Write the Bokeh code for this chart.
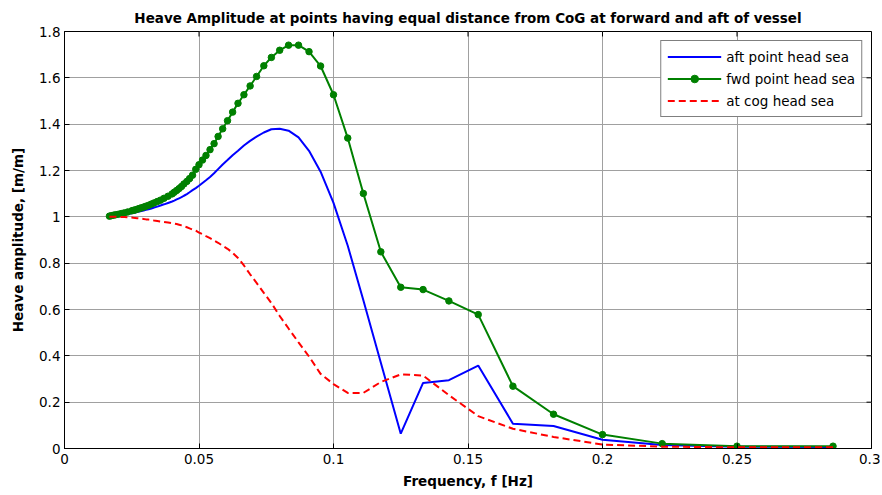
from bokeh.plotting import figure
from bokeh.models import FixedTicker, Range1d, Legend
from bokeh.embed import file_html
from bokeh.resources import INLINE

# Frequency [Hz]
freq = [0.0167, 0.0174, 0.0182, 0.0190, 0.0200, 0.0211, 0.0222, 0.0235, 0.0250, 0.0256,
        0.0263, 0.0270, 0.0278, 0.0286, 0.0294, 0.0303, 0.0313, 0.0323, 0.0333, 0.0345,
        0.0357, 0.0370, 0.0385, 0.0400, 0.0408, 0.0417, 0.0426, 0.0435, 0.0444, 0.0455,
        0.0465, 0.0476, 0.0488, 0.0500, 0.0513, 0.0526, 0.0541, 0.0556, 0.0571, 0.0588,
        0.0606, 0.0625, 0.0645, 0.0667, 0.0690, 0.0714, 0.0741, 0.0769, 0.0800, 0.0833,
        0.0870, 0.0909, 0.0952, 0.1000, 0.1053, 0.1111, 0.1176, 0.1250, 0.1333, 0.1429,
        0.1538, 0.1667, 0.1818, 0.2000, 0.2222, 0.2500, 0.2857]

aft_point = [1.000, 1.001, 1.002, 1.003, 1.005, 1.007, 1.009, 1.012, 1.015, 1.017,
             1.019, 1.021, 1.023, 1.025, 1.027, 1.030, 1.033, 1.036, 1.040, 1.044,
             1.049, 1.054, 1.060, 1.066, 1.070, 1.075, 1.080, 1.085, 1.091, 1.098,
             1.106, 1.115, 1.124, 1.134, 1.146, 1.158, 1.172, 1.188, 1.206, 1.226,
             1.245, 1.266, 1.285, 1.308, 1.328, 1.346, 1.364, 1.378, 1.380, 1.372,
             1.343, 1.285, 1.195, 1.060, 0.875, 0.640, 0.370, 0.064, 0.283, 0.295,
             0.358, 0.107, 0.097, 0.038, 0.015, 0.008, 0.007]

fwd_point = [1.003, 1.005, 1.007, 1.009, 1.011, 1.014, 1.017, 1.021, 1.026, 1.028,
             1.030, 1.033, 1.036, 1.039, 1.042, 1.046, 1.050, 1.055, 1.060, 1.066,
             1.072, 1.080, 1.089, 1.099, 1.106, 1.114, 1.122, 1.131, 1.142, 1.153,
             1.165, 1.180, 1.205, 1.225, 1.245, 1.265, 1.290, 1.316, 1.347, 1.380,
             1.415, 1.452, 1.490, 1.527, 1.565, 1.606, 1.652, 1.688, 1.719, 1.741,
             1.741, 1.713, 1.651, 1.527, 1.340, 1.101, 0.849, 0.696, 0.686, 0.637,
             0.578, 0.269, 0.148, 0.060, 0.021, 0.010, 0.010]

at_cog = [1.000, 1.000, 1.000, 1.000, 1.000, 0.999, 0.999, 0.998, 0.997, 0.996,
          0.995, 0.994, 0.993, 0.992, 0.991, 0.989, 0.988, 0.986, 0.984, 0.982,
          0.980, 0.978, 0.976, 0.973, 0.971, 0.969, 0.966, 0.963, 0.959, 0.955,
          0.950, 0.945, 0.940, 0.932, 0.925, 0.917, 0.908, 0.898, 0.888, 0.875,
          0.862, 0.845, 0.822, 0.790, 0.752, 0.715, 0.672, 0.628, 0.572, 0.518,
          0.458, 0.397, 0.322, 0.278, 0.240, 0.240, 0.287, 0.320, 0.315, 0.230,
          0.140, 0.085, 0.050, 0.017, 0.008, 0.005, 0.005]

x_ticks = [0, 0.05, 0.1, 0.15, 0.2, 0.25, 0.3]
x_tick_labels = ["0", "0.05", "0.1", "0.15", "0.2", "0.25", "0.3"]
y_ticks = [0, 0.2, 0.4, 0.6, 0.8, 1.0, 1.2, 1.4, 1.6, 1.8]
y_tick_labels = ["0", "0.2", "0.4", "0.6", "0.8", "1", "1.2", "1.4", "1.6", "1.8"]

FONT = "DejaVu Sans"
W, H = 880, 493
BL, BR, BT, BB = 64, 9, 31, 45
X0, X1, Y0, Y1 = 0, 0.3, 0, 1.8

p = figure(width=W, height=H, output_backend="svg", toolbar_location=None,
           x_range=Range1d(X0, X1), y_range=Range1d(Y0, Y1),
           min_border_left=BL, min_border_right=BR, min_border_top=BT, min_border_bottom=BB,
           title="Heave Amplitude at points having equal distance from CoG at forward and aft of vessel")

p.title.text_font = FONT
p.title.text_font_size = "13.5px"
p.title.text_font_style = "bold"
p.title.text_color = "black"
p.title.align = "center"
p.title.vertical_align = "middle"
p.title.offset = 0
p.title.standoff = 10

p.outline_line_color = "black"
p.outline_line_width = 1
p.outline_line_alpha = 1

for g in (p.xgrid[0], p.ygrid[0]):
    g.grid_line_color = "#a0a0a0"
    g.grid_line_width = 1

p.xgrid[0].ticker = FixedTicker(ticks=x_ticks)
p.ygrid[0].ticker = FixedTicker(ticks=y_ticks)

xa = p.xaxis[0]
xa.ticker = FixedTicker(ticks=x_ticks)
xa.major_label_overrides = {t: l for t, l in zip(x_ticks, x_tick_labels)}
xa.axis_label = "Frequency, f [Hz]"
ya = p.yaxis[0]
ya.ticker = FixedTicker(ticks=y_ticks)
ya.major_label_overrides = {t: l for t, l in zip(y_ticks, y_tick_labels)}
ya.axis_label = "Heave amplitude, [m/m]"

for ax in (xa, ya):
    ax.major_tick_in = 5
    ax.major_tick_out = 0
    ax.minor_tick_line_color = None
    ax.axis_line_color = "black"
    ax.major_tick_line_color = "black"
    ax.major_label_text_font = FONT
    ax.major_label_text_font_size = "13.5px"
    ax.major_label_text_color = "black"
    ax.axis_label_text_font = FONT
    ax.axis_label_text_font_size = "13.5px"
    ax.axis_label_text_font_style = "bold"
    ax.axis_label_text_color = "black"
xa.major_label_standoff = 5
xa.axis_label_standoff = 6
ya.major_label_standoff = 4
ya.axis_label_standoff = 10

# mirrored inward tick marks on the top and right frame edges (5 px long)
frame_w = W - BL - BR
frame_h = H - BT - BB
dx = 5 * (X1 - X0) / frame_w
dy = 5 * (Y1 - Y0) / frame_h
p.segment(x0=[X1] * len(y_ticks), y0=y_ticks, x1=[X1 - dx] * len(y_ticks), y1=y_ticks,
          line_color="black", line_width=1)
p.segment(x0=x_ticks, y0=[Y1] * len(x_ticks), x1=x_ticks, y1=[Y1 - dy] * len(x_ticks),
          line_color="black", line_width=1)

r_aft = p.line(freq, aft_point, line_color="#0000ff", line_width=2)
r_fwd = p.line(freq, fwd_point, line_color="#008000", line_width=2)
r_fwd_m = p.scatter(freq, fwd_point, size=6.5, fill_color="#008000", line_color="#008000")
r_cog = p.line(freq, at_cog, line_color="#ff0000", line_width=2, line_dash="7 4")

legend = Legend(items=[("aft point head sea", [r_aft]),
                       ("fwd point head sea", [r_fwd, r_fwd_m]),
                       ("at cog head sea", [r_cog])],
                location="top_right")
legend.label_text_font = FONT
legend.label_text_font_size = "13.5px"
legend.label_text_color = "black"
legend.border_line_color = "black"
legend.border_line_width = 1
legend.background_fill_color = "white"
legend.background_fill_alpha = 1
legend.glyph_width = 54
legend.glyph_height = 19
legend.label_height = 19
legend.label_standoff = 5
legend.spacing = 3
legend.padding = 6
legend.margin = 9
p.add_layout(legend)

open("out.html", "w").write(file_html(p, INLINE))
